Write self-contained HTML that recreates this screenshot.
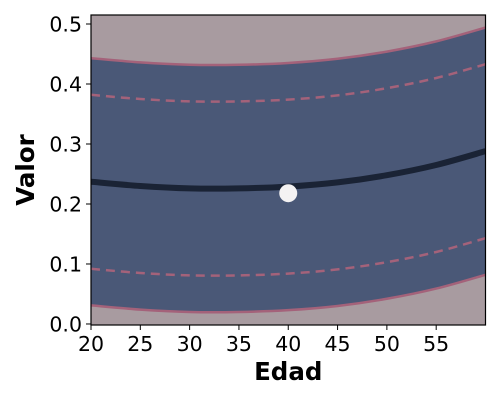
<!DOCTYPE html>
<html><head><meta charset="utf-8"><style>
body{margin:0;background:#fff;}
svg text{font-family:"DejaVu Sans","Liberation Sans",sans-serif;}
</style></head><body>
<svg id="chart" width="500" height="400" viewBox="0 0 500 400"></svg>
<script>
const ages=[20,25,30,35,40,45,50,55,60];
const centerValues=[0.237,0.230,0.226,0.226,0.229,0.236,0.248,0.265,0.288];
const outerOffset=0.206;
const innerOffset=0.145;
const pointAge=[40];
const pointValue=[0.218];
const xTicks=[20,25,30,35,40,45,50,55];
const yTicks=[0.0,0.1,0.2,0.3,0.4,0.5];

const L=91,R=485.5,T=15,B=325;
const x0=20,x1=60,y0=-0.0017,y1=0.515;
const sx=v=>L+(v-x0)/(x1-x0)*(R-L);
const sy=v=>B-(v-y0)/(y1-y0)*(B-T);
const NS="http://www.w3.org/2000/svg";
const svg=document.getElementById('chart');
function mk(tag,attrs,parent){const e=document.createElementNS(NS,tag);for(const k in attrs)e.setAttribute(k,attrs[k]);(parent||svg).appendChild(e);return e;}
const defs=mk('defs',{});
const cp=mk('clipPath',{id:'clip'},defs);mk('rect',{x:L,y:T,width:R-L,height:B-T},cp);

const bg=mk('rect',{x:L,y:T,width:R-L,height:B-T,fill:'#a89ba0'});


const g=mk('g',{'clip-path':'url(#clip)'});
function segs(p){let d='';for(let i=0;i<p.length-1;i++){const p0=p[i-1]||p[i],p1=p[i],p2=p[i+1],p3=p[i+2]||p[i+1];
  d+=' C'+(p1[0]+(p2[0]-p0[0])/6)+','+(p1[1]+(p2[1]-p0[1])/6)+' '+(p2[0]-(p3[0]-p1[0])/6)+','+(p2[1]-(p3[1]-p1[1])/6)+' '+p2[0]+','+p2[1];}return d;}
function curve(off){return ages.map((a,i)=>[sx(a),sy(centerValues[i]+off)]);}
function pathD(off){const p=curve(off);return 'M'+p[0][0]+','+p[0][1]+segs(p);}
const lo=curve(-outerOffset).reverse();
const band=mk('path',{d:pathD(outerOffset)+' L'+lo[0][0]+','+lo[0][1]+segs(lo)+' Z',fill:'#4a5877'},g);


[[outerOffset,'outer-upper','none'],[-outerOffset,'outer-lower','none'],[innerOffset,'inner-upper','9,6'],[-innerOffset,'inner-lower','9,6']].forEach(([o,n,da])=>{
 const p=mk('path',{d:pathD(o),fill:'none',stroke:'#a4627a','stroke-width':2.5,'stroke-dasharray':da},g);
 
 
});
const c=mk('path',{d:pathD(0),fill:'none',stroke:'#1a2335','stroke-width':6},g);


pointAge.forEach((a,i)=>{const d=mk('circle',{cx:sx(a),cy:sy(pointValue[i]),r:9,fill:'#f4f2f3'},g);
 
 });
const fr=mk('rect',{x:L,y:T,width:R-L,height:B-T,fill:'none',stroke:'#000','stroke-width':1.2});


xTicks.forEach(v=>{mk('line',{x1:sx(v),x2:sx(v),y1:B,y2:B+5,stroke:'#000'});
 const t=mk('text',{x:sx(v),y:B+26,'text-anchor':'middle','font-size':20.5});t.textContent=v;
 
 });
yTicks.forEach(v=>{mk('line',{x1:L-5,x2:L,y1:sy(v),y2:sy(v),stroke:'#000'});
 const t=mk('text',{x:L-9,y:sy(v)+7.5,'text-anchor':'end','font-size':20.5});t.textContent=v.toFixed(1);
 
 });
const xt=mk('text',{x:(L+R)/2,y:380,'text-anchor':'middle','font-size':24.5,'font-weight':'bold'});xt.textContent='Edad';


const yt=mk('text',{x:34,y:(T+B)/2,'text-anchor':'middle','font-size':24.5,'font-weight':'bold',transform:'rotate(-90 34 '+((T+B)/2)+')'});yt.textContent='Valor';


</script>
</body></html>
